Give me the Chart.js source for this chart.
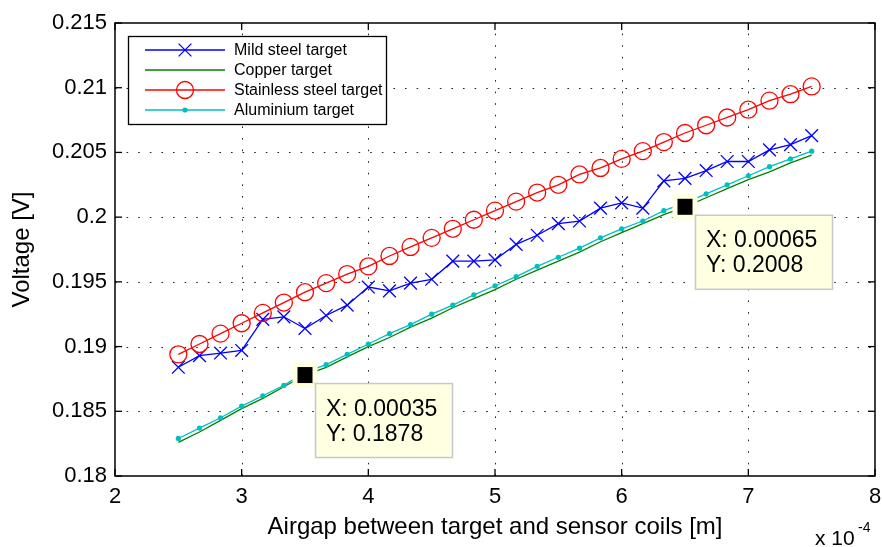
<!DOCTYPE html>
<html>
<head>
<meta charset="utf-8">
<script src="https://cdn.jsdelivr.net/npm/chart.js@4.4.0/dist/chart.umd.min.js"></script>
<style>
  html, body { margin: 0; padding: 0; background: #ffffff; }
  canvas { display: block; }
</style>
</head>
<body>
<canvas id="c" width="882" height="547"></canvas>
<script>
// Airgap positions, in units of 10^-4 m
const airgap = [2.5, 2.667, 2.833, 3.0, 3.167, 3.333, 3.5, 3.667, 3.833, 4.0,
                4.167, 4.333, 4.5, 4.667, 4.833, 5.0, 5.167, 5.333, 5.5, 5.667,
                5.833, 6.0, 6.167, 6.333, 6.5, 6.667, 6.833, 7.0, 7.167, 7.333, 7.5];

// Measured sensor voltage [V] for each target material
const mildSteel = [0.1884, 0.1893, 0.1895, 0.1897, 0.1921, 0.1923, 0.1914, 0.1924, 0.1932, 0.1946,
                   0.1943, 0.1949, 0.1952, 0.1966, 0.1966, 0.1967, 0.1979, 0.1986, 0.1995, 0.1997,
                   0.2007, 0.2011, 0.2007, 0.2028, 0.2030, 0.2036, 0.2043, 0.2043, 0.2052, 0.2056, 0.2063];
const copper = [0.1826, 0.1834, 0.1843, 0.1852, 0.1860, 0.1869, 0.1878, 0.1884, 0.1892, 0.1900,
                0.1907, 0.1915, 0.1922, 0.1930, 0.1937, 0.1944, 0.1952, 0.1959, 0.1966, 0.1973,
                0.1981, 0.1988, 0.1995, 0.2002, 0.2008, 0.2015, 0.2022, 0.2029, 0.2035, 0.2042, 0.2048];
const stainless = [0.1894, 0.1902, 0.1910, 0.1918, 0.1926, 0.1934, 0.1942, 0.1949, 0.1956, 0.1962,
                   0.1970, 0.1977, 0.1984, 0.1991, 0.1998, 0.2005, 0.2012, 0.2019, 0.2025, 0.2033,
                   0.2038, 0.2045, 0.2051, 0.2058, 0.2065, 0.2071, 0.2077, 0.2083, 0.2090, 0.2095, 0.2101];
const aluminium = [0.1829, 0.1837, 0.1845, 0.1854, 0.1862, 0.1870, 0.1880, 0.1886, 0.1894, 0.1902,
                   0.1910, 0.1917, 0.1925, 0.1932, 0.1940, 0.1947, 0.1954, 0.1962, 0.1969, 0.1976,
                   0.1984, 0.1991, 0.1997, 0.2005, 0.2011, 0.2018, 0.2025, 0.2032, 0.2039, 0.2045, 0.2051];

const seriesNames = ['Mild steel target', 'Copper target', 'Stainless steel target', 'Aluminium target'];

const xTicks = [2, 3, 4, 5, 6, 7, 8];
const xTickLabels = ['2', '3', '4', '5', '6', '7', '8'];
const yTicks = [0.18, 0.185, 0.19, 0.195, 0.2, 0.205, 0.21, 0.215];
const yTickLabels = ['0.18', '0.185', '0.19', '0.195', '0.2', '0.205', '0.21', '0.215'];

// Data cursors pinned on the copper curve (x in metres)
const tipX = [0.00035, 0.00065];
const tipY = [0.1878, 0.2008];
const tipXLabels = ['0.00035', '0.00065'];
const tipYLabels = ['0.1878', '0.2008'];

const FONT = "'Liberation Sans', Arial, Helvetica, sans-serif";

const toPoints = (ys) => airgap.map((x, i) => ({ x: x, y: ys[i] }));

const datasets = [
  { label: seriesNames[0], data: toPoints(mildSteel), borderColor: '#0000ff', borderWidth: 1.3,
    pointStyle: 'crossRot', pointRadius: 9, pointBorderColor: '#0000ff', pointBorderWidth: 1.3,
    pointBackgroundColor: 'rgba(0,0,0,0)', legendMarker: 'cross' },
  { label: seriesNames[1], data: toPoints(copper), borderColor: '#008000', borderWidth: 1.3,
    pointRadius: 0, legendMarker: 'none' },
  { label: seriesNames[2], data: toPoints(stainless), borderColor: '#ff0000', borderWidth: 1.3,
    pointStyle: 'circle', pointRadius: 8.5, pointBorderColor: '#ff0000', pointBorderWidth: 1.3,
    pointBackgroundColor: 'rgba(0,0,0,0)', legendMarker: 'circle' },
  { label: seriesNames[3], data: toPoints(aluminium), borderColor: '#00bfbf', borderWidth: 1.3,
    pointStyle: 'circle', pointRadius: 2.6, pointBorderWidth: 0, pointBackgroundColor: '#00bfbf',
    legendMarker: 'dot' }
];
datasets.forEach((d, i) => { d.order = datasets.length - i; d.tension = 0; d.fill = false; });

// Dotted grid, axes box and inward ticks
const framePlugin = {
  id: 'frame',
  beforeDatasetsDraw(chart) {
    const { ctx, chartArea: a, scales: { x, y } } = chart;
    ctx.save();
    ctx.strokeStyle = '#222';
    ctx.lineWidth = 1;
    ctx.setLineDash([1.6, 10]);
    xTicks.slice(1, -1).forEach(v => {
      const px = Math.round(x.getPixelForValue(v)) + 0.5;
      ctx.beginPath(); ctx.moveTo(px, a.bottom); ctx.lineTo(px, a.top); ctx.stroke();
    });
    yTicks.slice(1, -1).forEach(v => {
      const py = Math.round(y.getPixelForValue(v)) + 0.5;
      ctx.beginPath(); ctx.moveTo(a.left, py); ctx.lineTo(a.right, py); ctx.stroke();
    });
    ctx.setLineDash([]);
    ctx.strokeStyle = '#000';
    ctx.lineWidth = 1.3;
    const tl = 7;
    xTicks.forEach(v => {
      const px = x.getPixelForValue(v);
      ctx.beginPath(); ctx.moveTo(px, a.bottom); ctx.lineTo(px, a.bottom - tl); ctx.stroke();
      ctx.beginPath(); ctx.moveTo(px, a.top); ctx.lineTo(px, a.top + tl); ctx.stroke();
    });
    yTicks.forEach(v => {
      const py = y.getPixelForValue(v);
      ctx.beginPath(); ctx.moveTo(a.left, py); ctx.lineTo(a.left + tl, py); ctx.stroke();
      ctx.beginPath(); ctx.moveTo(a.right, py); ctx.lineTo(a.right - tl, py); ctx.stroke();
    });
    ctx.lineWidth = 1.5;
    ctx.strokeRect(a.left, a.top, a.right - a.left, a.bottom - a.top);
    ctx.restore();
  },
  afterDraw(chart) {
    const { ctx, chartArea: a } = chart;
    // exponent of the x axis
    ctx.save();
    ctx.fillStyle = '#000';
    ctx.textBaseline = 'alphabetic';
    ctx.textAlign = 'left';
    ctx.font = `21px ${FONT}`;
    ctx.fillText('x 10', a.right - 60, 545);
    ctx.font = `14px ${FONT}`;
    ctx.fillText('-4', a.right - 17, 532);
    ctx.restore();
  }
};

// Data cursor markers and their text boxes
const tipPlugin = {
  id: 'tips',
  afterDatasetsDraw(chart) {
    const { ctx, scales: { x, y } } = chart;
    ctx.save();
    tipX.forEach((tx, i) => {
      const cx = x.getPixelForValue(tx * 1e4);
      const cy = y.getPixelForValue(tipY[i]);
      ctx.fillStyle = '#ffffe1';
      ctx.fillRect(cx - 12.5, cy - 13, 25, 26);
      ctx.fillStyle = '#000';
      ctx.fillRect(cx - 7.5, cy - 8, 15, 16);
      const bx = cx + 10, by = cy + 8;
      ctx.fillStyle = '#ffffe1';
      ctx.fillRect(bx, by, 138, 75);
      ctx.strokeStyle = '#c8c8c8';
      ctx.lineWidth = 1.5;
      ctx.strokeRect(bx + 0.5, by + 0.5, 137, 74);
      ctx.fillStyle = '#000';
      ctx.font = `23px ${FONT}`;
      ctx.textAlign = 'left';
      ctx.textBaseline = 'alphabetic';
      ctx.fillText('X: ' + tipXLabels[i], bx + 11, by + 32.5);
      ctx.fillText('Y: ' + tipYLabels[i], bx + 11, by + 57.5);
    });
    ctx.restore();
  },
  afterDraw(chart) {
    // legend box with line samples
    const { ctx } = chart;
    const box = { x: 128.5, y: 36.5, w: 258, h: 88 };
    ctx.save();
    ctx.fillStyle = '#fff';
    ctx.fillRect(box.x, box.y, box.w, box.h);
    ctx.strokeStyle = '#000';
    ctx.lineWidth = 1.3;
    ctx.strokeRect(box.x, box.y, box.w, box.h);
    chart.data.datasets.forEach((d, i) => {
      const ly = 50 + i * 20;
      ctx.strokeStyle = d.borderColor;
      ctx.lineWidth = d.borderWidth;
      ctx.beginPath(); ctx.moveTo(145, ly); ctx.lineTo(225, ly); ctx.stroke();
      const mx = 185;
      if (d.legendMarker === 'cross') {
        const r = 6.4;
        ctx.beginPath();
        ctx.moveTo(mx - r, ly - r); ctx.lineTo(mx + r, ly + r);
        ctx.moveTo(mx - r, ly + r); ctx.lineTo(mx + r, ly - r);
        ctx.stroke();
      } else if (d.legendMarker === 'circle') {
        ctx.beginPath(); ctx.arc(mx, ly, 8.5, 0, Math.PI * 2); ctx.stroke();
      } else if (d.legendMarker === 'dot') {
        ctx.fillStyle = d.borderColor;
        ctx.beginPath(); ctx.arc(mx, ly, 2.6, 0, Math.PI * 2); ctx.fill();
      }
      ctx.fillStyle = '#000';
      ctx.font = `16px ${FONT}`;
      ctx.textAlign = 'left';
      ctx.textBaseline = 'middle';
      ctx.fillText(d.label, 234, ly + 1);
    });
    ctx.restore();
  }
};

new Chart(document.getElementById('c'), {
  type: 'line',
  data: { datasets: datasets },
  options: {
    responsive: false,
    animation: false,
    devicePixelRatio: 1,
    layout: { autoPadding: false, padding: { top: 23, right: 7, left: 0, bottom: 0 } },
    plugins: { legend: { display: false }, tooltip: { enabled: false } },
    scales: {
      x: {
        type: 'linear', min: 2, max: 8,
        afterBuildTicks: s => { s.ticks = xTicks.map(v => ({ value: v })); },
        afterFit: s => { s.height = 71; s.paddingLeft = 0; s.paddingRight = 0; },
        ticks: { callback: (v, i) => xTickLabels[i], color: '#000', padding: 8,
                 maxRotation: 0, font: { family: FONT, size: 22 } },
        grid: { display: false, drawTicks: false },
        border: { display: false },
        title: { display: true, text: 'Airgap between target and sensor coils [m]', color: '#000',
                 font: { family: FONT, size: 24 }, padding: { top: 0, bottom: 5.5 } }
      },
      y: {
        type: 'linear', min: 0.18, max: 0.215,
        afterBuildTicks: s => { s.ticks = yTicks.map(v => ({ value: v })); },
        afterFit: s => { s.width = 115; s.paddingTop = 0; s.paddingBottom = 0; },
        ticks: { callback: (v, i) => yTickLabels[i], color: '#000', padding: 8,
                 font: { family: FONT, size: 22 } },
        grid: { display: false, drawTicks: false },
        border: { display: false },
        title: { display: true, text: 'Voltage [V]', color: '#000',
                 font: { family: FONT, size: 24 }, padding: { top: 7.5, bottom: 0 } }
      }
    }
  },
  plugins: [framePlugin, tipPlugin]
});
</script>
</body>
</html>
